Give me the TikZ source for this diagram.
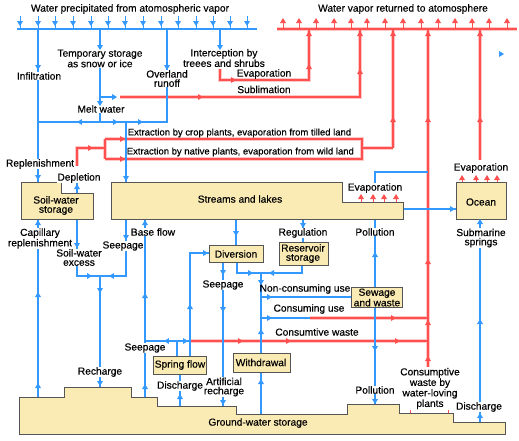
\documentclass[tikz,border=0pt]{standalone}
\usepackage{fontspec}
\setmainfont{Liberation Sans}[FakeBold=0.35]
\definecolor{bl}{RGB}{51,153,255}
\definecolor{rd}{RGB}{255,80,80}
\definecolor{rdh}{RGB}{255,200,200}
\definecolor{boxy}{RGB}{250,234,180}
\definecolor{boxd}{RGB}{85,85,85}
\newcommand{\mkarr}[4]{\fill[#1] (#2,#3) ++(#4:3pt) -- ++(#4+149:5.83pt) -- ++(#4-90:6pt) -- cycle;}
\tikzset{
  bline/.style={draw=bl, line width=1.4pt},
  rline/.style={draw=rd, line width=1.1pt, preaction={draw=rdh, line width=3.2pt}},
  rstem/.style={draw=rd, line width=1pt},
  gbox/.style={fill=boxy, draw=boxd, line width=0.8pt},
  lbl/.style={font=\fontsize{10.2}{9.2}\selectfont, inner sep=0.6pt, align=center},
  lw/.style={lbl, fill=white},
  ext/.style={lbl, font=\fontsize{9.5}{9.2}\selectfont, anchor=west},
}
\begin{document}
\begin{tikzpicture}[x=1pt,y=-1pt]
\useasboundingbox (0,0) rectangle (519,440);
% ---------- red paths ----------
\draw[rline]
  (277,29) -- (517,29)
  (120,97) -- (360,97) -- (360,29)
  (220,69) -- (220,80) -- (309,80) -- (309,29)
  (393,148) -- (393,29)
  (428,368) -- (428,29)
  (480,160) -- (480,29)
  (77,166) -- (77,148) -- (105,148)
  (105,139) -- (105,159)
  (105,139) -- (362,139) -- (362,148) -- (393,148)
  (105,159) -- (362,159) -- (362,148)
  (310,318) -- (428,318)
  (190,341) -- (428,341);
\foreach \x in {283,299,316,334,351,367,385,403,421,438,455,472,489,507}
  {\draw[rstem] (\x,29) -- (\x,22); \mkarr{rd}{\x}{21}{90}}
\foreach \x in {361,373,384,396} {\draw[rstem] (\x,202) -- (\x,197); \mkarr{rd}{\x}{197}{90}}
\foreach \x in {462,476,487,497} {\draw[rstem] (\x,182) -- (\x,178); \mkarr{rd}{\x}{178}{90}}
\foreach \x in {410,448} {\draw[rstem] (\x,413) -- (\x,406); \mkarr{rd}{\x}{406}{90}}
% ---------- blue paths ----------
\draw[bline]
  (17,29) -- (257,29)
  (38,29) -- (38,182)
  (100,29) -- (100,122)
  (100,97) -- (112,97)
  (167,29) -- (167,122) -- (38,122)
  (126,122) -- (126,182)
  (220,29) -- (220,60)
  (77,193) -- (77,183)
  (38,219) -- (38,397)
  (77,219) -- (77,276) -- (126,276) -- (126,219)
  (100,276) -- (100,387)
  (145,219) -- (145,397)
  (145,341) -- (190,341)
  (177,341) -- (177,356)
  (190,356) -- (190,253) -- (209,253)
  (180,374) -- (180,406)
  (236,219) -- (236,245)
  (237,262) -- (237,273) -- (302,273) -- (302,265)
  (223,262) -- (223,406)
  (303,219) -- (303,242)
  (261,273) -- (261,353)
  (261,297) -- (351,297)
  (261,318) -- (310,318)
  (261,372) -- (261,414)
  (375,188) -- (375,172) -- (428,172)
  (375,219) -- (375,287)
  (375,307) -- (375,404)
  (403,209) -- (456,209)
  (480,219) -- (480,422);
\foreach \x in {20,38,55,73,91,108,125,143,161,178,196,213,230,247}
  {\draw[draw=bl, line width=1pt] (\x,16) -- (\x,29); \mkarr{bl}{\x}{23}{-90}}
% ---------- boxes ----------
\draw[gbox] (21,182) -- (61,182) -- (61,193) -- (93,193) -- (93,219) -- (21,219) -- cycle;
\draw[gbox] (111,182) -- (342,182) -- (342,202) -- (403,202) -- (403,219) -- (111,219) -- cycle;
\draw[gbox] (456,182) rectangle (506,219);
\draw[gbox] (209,245) rectangle (263,262);
\draw[gbox] (279,242) rectangle (328,265);
\draw[gbox] (351,287) rectangle (402,307);
\draw[gbox] (153,356) rectangle (206,374);
\draw[gbox] (233,353) rectangle (290,372);
\draw[gbox] (19,397) -- (64,397) -- (64,387) -- (131,387) -- (131,397) -- (157,397) -- (157,406)
  -- (236,406) -- (236,414) -- (347,414) -- (347,404) -- (399,404) -- (399,413) -- (453,413)
  -- (453,422) -- (505,422) -- (505,434) -- (19,434) -- cycle;
% ---------- labels ----------
\node[lbl] (t1) at (130,9) {Water precipitated from atomospheric vapor};
\node[lbl] (t2) at (403,9) {Water vapor returned to atomosphere};
\node[lw] (infil) at (39,76) {Infiltration};
\node[lw] (temp) at (100,58.5) {Temporary storage\\as snow or ice};
\node[lw] (over) at (167,78.5) {Overland\\runoff};
\node[lw] (inter) at (224,58) {Interception by\\treees and shrubs};
\node[lbl] (evap1) at (264,74) {Evaporation};
\node[lbl] (subl) at (264,89.5) {Sublimation};
\node[lw] (melt) at (101,109) {Melt water};
\node[ext] (crop) at (127,133) {Extraction by crop plants, evaporation from tilled land};
\node[ext] (native) at (126,152) {Extraction by native plants, evaporation from wild land};
\node[lw] (repl) at (40,164) {Replenishment};
\node[lw] (depl) at (79,178) {Depletion};
\node[lbl] (soil) at (56,205.5) {Soil-water\\storage};
\node[lbl] (streams) at (240,199) {Streams and lakes};
\node[lw] (evap2) at (375,188) {Evaporation};
\node[lbl] (evap3) at (481,168) {Evaporation};
\node[lbl] (ocean) at (481,202) {Ocean};
\node[lw] (capil) at (40,238.5) {Capillary\\replenishment};
\node[lw] (excess) at (79,257.5) {Soil-water\\excess};
\node[lw] (base) at (153,232) {Base flow};
\node[lw] (seep1) at (123,246) {Seepage};
\node[lw] (regul) at (303,233) {Regulation};
\node[lw] (poll1) at (375,232) {Pollution};
\node[lw] (subm) at (481,238) {Submarine\\springs};
\node[lbl] (divers) at (236,254) {Diversion};
\node[lbl] (reserv) at (303,253.5) {Reservoir\\storage};
\node[lw] (seep2) at (223,285) {Seepage};
\node[lbl] (noncon) at (305,289) {Non-consuming use};
\node[lbl] (sewage) at (377,297.5) {Sewage\\and waste};
\node[lbl] (consum) at (309,309) {Consuming use};
\node[lbl] (cwaste) at (317,332) {Consumtive waste};
\node[lw] (seep3) at (145,348) {Seepage};
\node[lbl] (spring) at (180,365) {Spring flow};
\node[lbl] (withd) at (261,362.5) {Withdrawal};
\node[lw] (rech) at (100,372) {Recharge};
\node[lw] (disch1) at (180,386) {Discharge};
\node[lw] (artif) at (224,387) {Artificial\\recharge};
\node[lw] (poll2) at (375,390) {Pollution};
\node[lw] (wloving) at (430,388.5) {Consumptive\\waste by\\water-loving\\plants};
\node[lw] (disch2) at (479,407) {Discharge};
\node[lbl] (ground) at (258,423) {Ground-water storage};
% ---------- red arrowheads ----------
\foreach \x/\y/\a in {233/80/0, 200/97/0, 309/67/90, 309/34/90, 360/72/90, 360/34/90,
  393/120/90, 393/34/90, 428/120/90, 428/34/90, 428/262/90, 428/323/90, 428/359/90,
  480/120/90, 480/34/90, 90/148/0, 122/139/0, 122/159/0, 393/318/0,
  240/341/0, 288/341/0, 397/341/0}
  {\mkarr{rd}{\x}{\y}{\a}}
% ---------- blue arrowheads ----------
\foreach \x/\y/\a in {38/67/-90, 38/177/-90, 100/47/-90, 100/103/-90, 114/97/0, 167/67/-90,
  80/122/180, 115/122/0, 140/122/0, 126/178/-90, 220/47/-90, 77/187/90,
  38/223/90, 38/295/90, 38/386/90, 77/245/-90, 89/276/0, 112/276/180, 126/237/-90,
  100/290/-90, 100/383/-90, 145/223/90, 145/296/90, 145/387/90, 167/341/180, 185/341/0,
  190/307/90, 205/253/0, 180/397/90, 236/233/-90, 250/273/0, 272/273/180,
  223/272/-90, 223/309/-90, 223/402/-90, 303/225/-90, 261/282/-90, 261/332/90,
  269/297/0, 269/318/0, 261/382/90, 375/255/90, 375/348/-90, 375/401/-90,
  452/209/0, 480/222/90, 480/322/90, 480/416/90, 501/54/0}
  {\mkarr{bl}{\x}{\y}{\a}}
\end{tikzpicture}
\end{document}
